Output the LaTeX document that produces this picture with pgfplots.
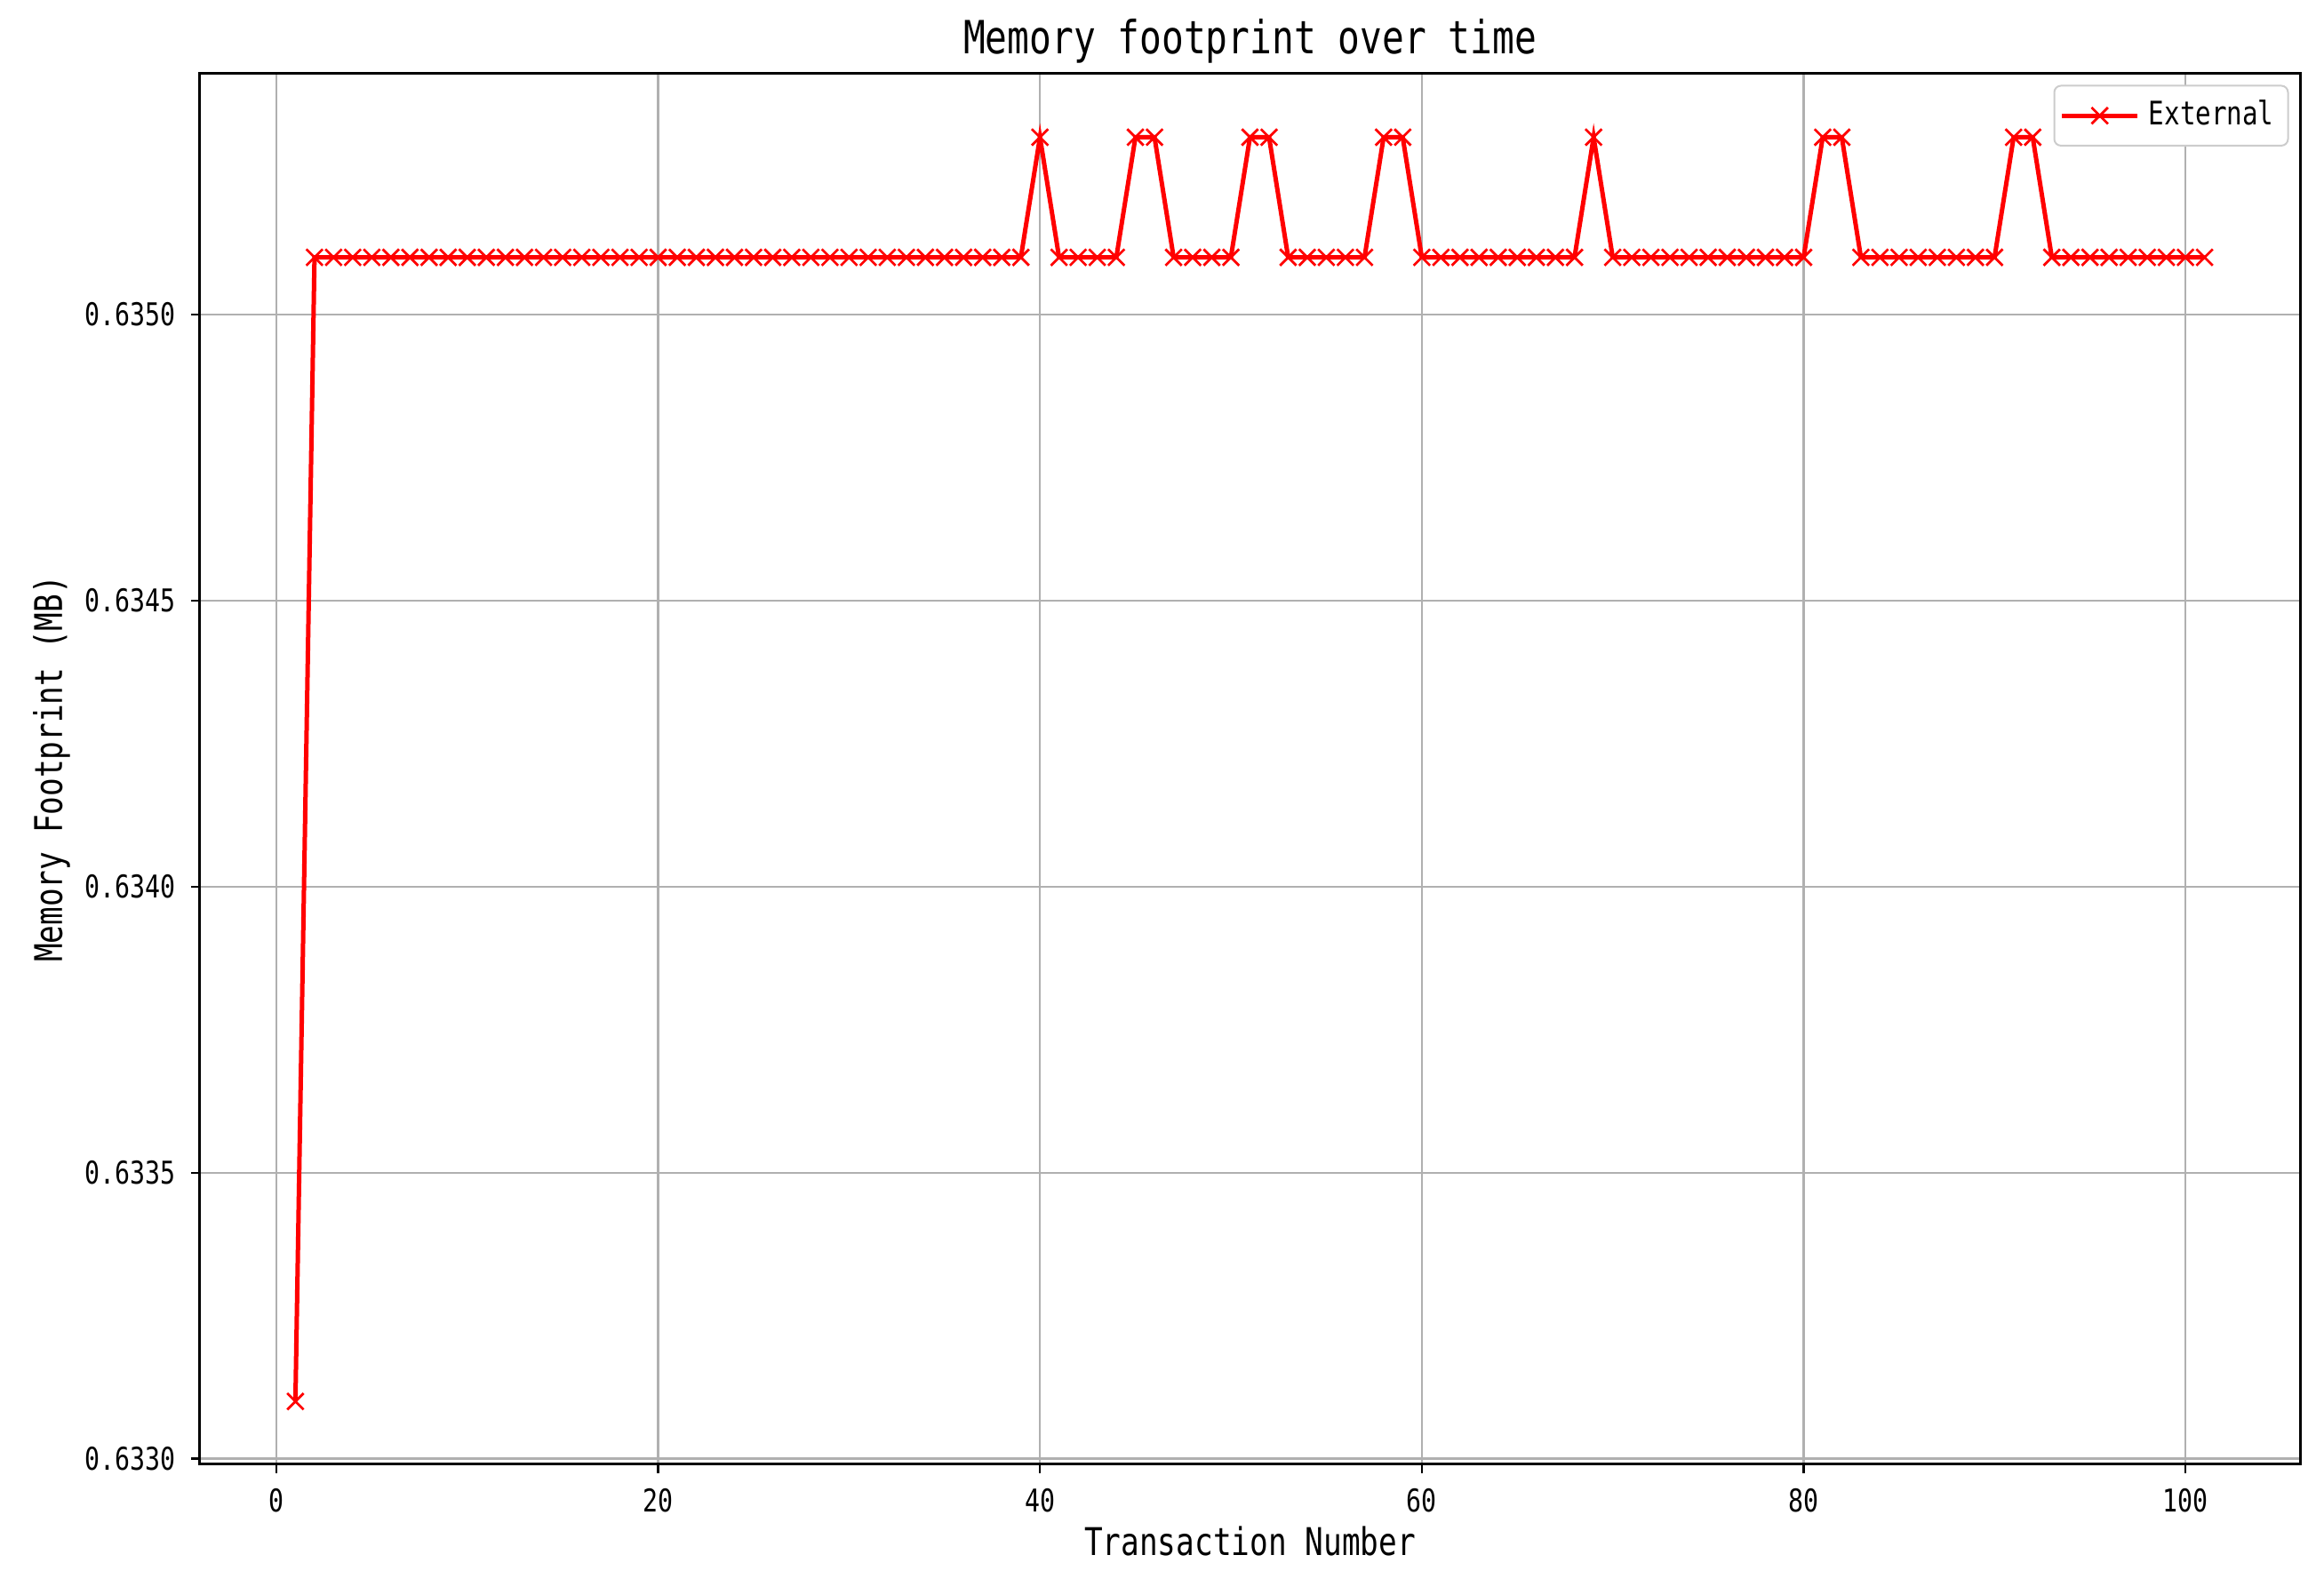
\documentclass[border=0pt]{standalone}
\usepackage{pgfplots}
\pgfplotsset{compat=1.18}
\usepackage{fontspec}
\setmainfont{DejaVu Sans Mono}[FakeStretch=0.8]
\definecolor{gridgray}{HTML}{B0B0B0}
\definecolor{legframe}{HTML}{CCCCCC}
\begin{document}
\begin{tikzpicture}
\path[use as bounding box] (0,0) rectangle (523pt,353.6pt);
\begin{axis}[
  at={(45pt,24pt)}, anchor=south west,
  scale only axis, width=472.6pt, height=313pt,
  xmin=-4, xmax=106, ymin=0.63299, ymax=0.635421,
  xtick={0,20,40,60,80,100},
  ytick={0.6330,0.6335,0.6340,0.6345,0.6350},
  yticklabels={0.6330,0.6335,0.6340,0.6345,0.6350},
  scaled y ticks=false,
  /pgf/number format/assume math mode=true,
  tick label style={font=\fontsize{7.06}{8}\selectfont},
  grid=major, grid style={color=gridgray, line width=0.45pt},
  tick align=outside, tick pos=left, major tick length=2pt,
  tick style={black, line width=0.45pt},
  axis line style={black, line width=0.6pt},
  every axis title shift=0pt,
  title={Memory footprint over time},
  title style={at={(0.5,1)}, anchor=center, yshift=7.3pt, font=\fontsize{10.3}{12}\selectfont},
  xlabel={Transaction Number},
  ylabel={Memory Footprint (MB)},
  xlabel style={at={(axis description cs:0.5,-0.0553)}, anchor=center, font=\fontsize{8.6}{10}\selectfont},
  ylabel style={at={(axis description cs:-0.0707,0.5)}, anchor=center, font=\fontsize{8.6}{10}\selectfont},
  legend style={at={(1,1)}, anchor=north east, xshift=-2.5pt, yshift=-2.5pt, draw=legframe, rounded corners=1.5pt, font=\fontsize{7.3}{8}\selectfont, inner sep=1.2pt},
  legend cell align=left,
]
\addplot[red, line width=1pt, mark=x, mark size=2.6pt, mark options={line width=0.55pt}] coordinates {
(1,0.63310)
(2,0.63510)(3,0.63510)(4,0.63510)(5,0.63510)(6,0.63510)(7,0.63510)(8,0.63510)(9,0.63510)(10,0.63510)
(11,0.63510)(12,0.63510)(13,0.63510)(14,0.63510)(15,0.63510)(16,0.63510)(17,0.63510)(18,0.63510)(19,0.63510)(20,0.63510)
(21,0.63510)(22,0.63510)(23,0.63510)(24,0.63510)(25,0.63510)(26,0.63510)(27,0.63510)(28,0.63510)(29,0.63510)(30,0.63510)
(31,0.63510)(32,0.63510)(33,0.63510)(34,0.63510)(35,0.63510)(36,0.63510)(37,0.63510)(38,0.63510)(39,0.63510)
(40,0.63531)
(41,0.63510)(42,0.63510)(43,0.63510)(44,0.63510)
(45,0.63531)(46,0.63531)
(47,0.63510)(48,0.63510)(49,0.63510)(50,0.63510)
(51,0.63531)(52,0.63531)
(53,0.63510)(54,0.63510)(55,0.63510)(56,0.63510)(57,0.63510)
(58,0.63531)(59,0.63531)
(60,0.63510)(61,0.63510)(62,0.63510)(63,0.63510)(64,0.63510)(65,0.63510)(66,0.63510)(67,0.63510)(68,0.63510)
(69,0.63531)
(70,0.63510)(71,0.63510)(72,0.63510)(73,0.63510)(74,0.63510)(75,0.63510)(76,0.63510)(77,0.63510)(78,0.63510)(79,0.63510)(80,0.63510)
(81,0.63531)(82,0.63531)
(83,0.63510)(84,0.63510)(85,0.63510)(86,0.63510)(87,0.63510)(88,0.63510)(89,0.63510)(90,0.63510)
(91,0.63531)(92,0.63531)
(93,0.63510)(94,0.63510)(95,0.63510)(96,0.63510)(97,0.63510)(98,0.63510)(99,0.63510)(100,0.63510)(101,0.63510)
};
\addlegendentry{External}
\end{axis}
\end{tikzpicture}
\end{document}
